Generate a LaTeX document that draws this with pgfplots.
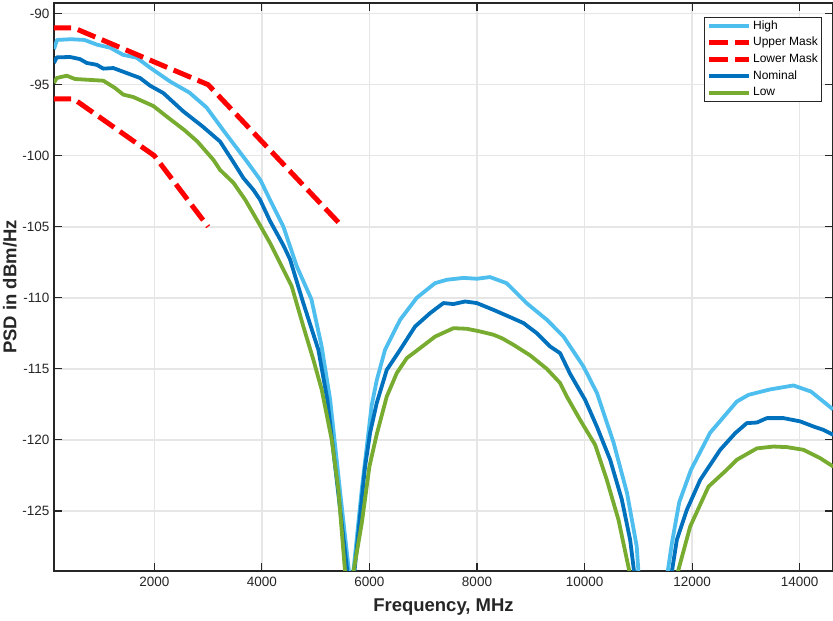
\documentclass[border=0pt]{standalone}
\usepackage{fontspec}
\setmainfont{Liberation Sans}
\usepackage{pgfplots}
\pgfplotsset{compat=1.18}
\definecolor{cHigh}{HTML}{4DBEEE}
\definecolor{cNom}{HTML}{0072BD}
\definecolor{cLow}{HTML}{77AC30}
\definecolor{axgray}{HTML}{262626}
\definecolor{gridgray}{HTML}{E6E6E6}
\begin{document}
\begin{tikzpicture}
\begin{axis}[
    scale only axis,
    width=779pt, height=568pt,
    xmin=134, xmax=14620, ymin=-129.23, ymax=-89.25,
    xtick={2000,4000,...,14000},
    ytick={-125,-120,...,-90},
    scaled x ticks=false,
    /pgf/number format/assume math mode=true,
    /pgf/number format/1000 sep={},
    tick align=inside,
    major tick length=8pt,
    grid=major,
    major grid style={line width=1.5pt, color=gridgray},
    axis line style={line width=1.2pt, color=axgray},
    every tick/.style={line width=1.2pt, color=axgray},
    tick label style={font=\fontsize{13.5}{15}\selectfont, color=axgray},
    xticklabel style={yshift=-3pt},
    yticklabel style={xshift=-1pt},
    xlabel={Frequency, MHz},
    ylabel={PSD in dBm/Hz},
    label style={font=\fontsize{18.5}{21}\selectfont\bfseries, color=axgray},
    xlabel style={at={(axis description cs:0.5,-0.0634)}, anchor=center},
    ylabel style={at={(axis description cs:-0.0565,0.5)}, anchor=center},
    legend style={at={(axis description cs:1,1)}, anchor=north east,
        xshift=-11.3pt, yshift=-13.7pt,
        font=\fontsize{12}{14}\selectfont,
        draw=axgray, line width=0.8pt,
        inner xsep=2pt, inner ysep=2pt,
        nodes={inner sep=1.5pt, text height=8.5pt, text depth=2.5pt},
        row sep=2.7pt},
    legend cell align=left,
    legend image code/.code={\draw[#1] (0pt,0pt) -- (40pt,0pt);},
    every axis plot/.append style={line join=round},
]
% High
\addplot[color=cHigh, line width=3.8pt] coordinates {
(134,-92.5) (190,-91.85) (450,-91.8) (700,-91.85) (930,-92.18) (1180,-92.4)
(1420,-92.9) (1670,-93.1) (1920,-93.8) (2290,-94.77) (2650,-95.55) (2970,-96.6)
(3300,-98.3) (3720,-100.4) (3970,-101.7) (4150,-103.1) (4400,-105.0) (4650,-107.8)
(4920,-110.1) (5110,-113.4) (5270,-117.2) (5450,-123.5) (5620,-129.3) (5662,-130.7)
(5700,-129.3) (5857,-123.5) (6040,-117.6) (6136,-115.8) (6290,-113.66) (6570,-111.55)
(6880,-110.0) (7220,-108.97) (7440,-108.73) (7750,-108.6) (8000,-108.66) (8240,-108.54)
(8550,-108.97) (8930,-110.4) (9300,-111.55) (9610,-112.73) (9980,-114.84) (10230,-116.7)
(10540,-120.2) (10790,-123.75) (10970,-127.5) (11002,-129.3) (11217,-137) (11545,-129.3)
(11623,-127.3) (11760,-124.4) (11980,-122.1) (12335,-119.5) (12832,-117.3) (13050,-116.83)
(13450,-116.45) (13885,-116.17) (14210,-116.6) (14620,-117.85)
};
\addlegendentry{High}
% Upper mask
\addplot[color=red, line width=5pt, dash pattern=on 19pt off 7pt] coordinates {
(100,-91) (500,-91) (3000,-95) (5500,-105)
};
\addlegendentry{Upper Mask}
% Lower mask
\addplot[color=red, line width=5pt, dash pattern=on 19pt off 7pt] coordinates {
(100,-96) (500,-96) (2000,-100) (3000,-105)
};
\addlegendentry{Lower Mask}
% Nominal
\addplot[color=cNom, line width=3.8pt] coordinates {
(134,-93.47) (184,-93.08) (431,-93.05) (617,-93.2) (742,-93.47) (928,-93.6)
(1051,-93.87) (1237,-93.83) (1486,-94.18) (1734,-94.53) (1921,-95.07) (2167,-95.59)
(2539,-96.88) (2900,-97.95) (3222,-99.0) (3470,-100.45) (3656,-101.57) (3841,-102.4)
(3966,-103.1) (4152,-104.6) (4399,-106.3) (4524,-107.3) (4770,-110.37) (5050,-113.66)
(5218,-117.2) (5400,-123.1) (5590,-129.3) (5659,-131.5) (5720,-129.3) (5918,-121.9)
(6012,-119.5) (6136,-117.4) (6322,-115.07) (6570,-113.66) (6849,-112.02) (7128,-111.08)
(7376,-110.37) (7562,-110.44) (7779,-110.26) (7996,-110.37) (8306,-110.85) (8616,-111.36)
(8864,-111.78) (9112,-112.49) (9360,-113.43) (9546,-113.9) (9731,-115.35) (10010,-117.18)
(10228,-119.06) (10476,-121.4) (10693,-124.2) (10848,-127.04) (10922,-129.3) (11232,-138.8)
(11623,-129.3) (11716,-127.04) (11902,-124.93) (12150,-122.82) (12522,-120.7) (12801,-119.53)
(13018,-118.82) (13204,-118.78) (13390,-118.47) (13700,-118.47) (14010,-118.7) (14258,-119.06)
(14444,-119.3) (14625,-119.65)
};
\addlegendentry{Nominal}
% Low
\addplot[color=cLow, line width=3.8pt] coordinates {
(134,-94.88) (184,-94.53) (370,-94.37) (525,-94.6) (1051,-94.72) (1268,-95.23)
(1423,-95.7) (1609,-95.87) (1981,-96.5) (2250,-97.3) (2560,-98.2) (2800,-99.0)
(3100,-100.3) (3222,-101.0) (3470,-101.9) (3690,-103.1) (3966,-104.9) (4152,-106.15)
(4338,-107.56) (4555,-109.2) (4771,-112.02) (4958,-114.37) (5113,-116.48) (5299,-120.0)
(5422,-123.5) (5547,-129.3) (5597,-131.6) (5702,-129.3) (5857,-125.87) (5999,-121.88)
(6136,-119.6) (6322,-116.95) (6508,-115.3) (6694,-114.25) (6942,-113.54) (7221,-112.73)
(7562,-112.14) (7810,-112.18) (8057,-112.37) (8306,-112.6) (8461,-112.84) (8678,-113.31)
(8987,-114.05) (9298,-115.0) (9546,-116.0) (9670,-116.95) (9918,-118.6) (10197,-120.35)
(10414,-122.82) (10631,-125.63) (10836,-129.3) (11232,-136.4) (11735,-129.3) (11964,-126.1)
(12304,-123.29) (12646,-122.1) (12832,-121.4) (13204,-120.6) (13514,-120.47) (13762,-120.51)
(14072,-120.7) (14382,-121.29) (14625,-121.88)
};
\addlegendentry{Low}
\end{axis}
\pgfresetboundingbox
\useasboundingbox (-54pt,-50pt) rectangle (779pt,571pt);
\end{tikzpicture}
\end{document}
